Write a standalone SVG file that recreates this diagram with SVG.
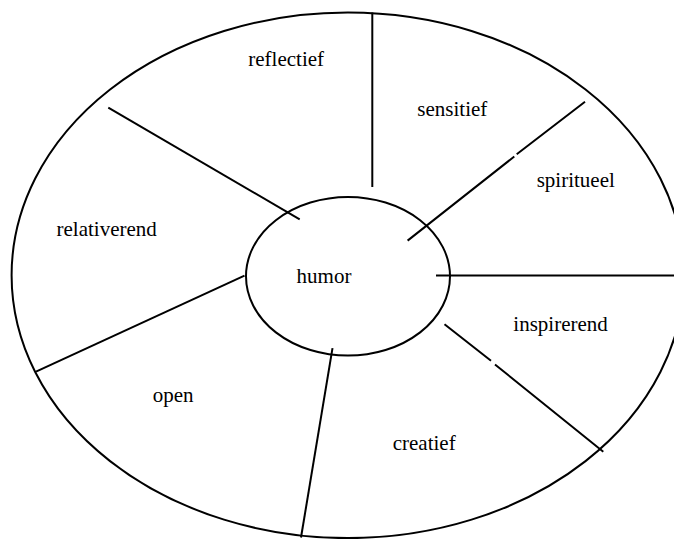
<svg xmlns="http://www.w3.org/2000/svg" width="674" height="539" viewBox="0 0 674 539">
<style>
.shape{fill:none;stroke:#000;stroke-width:2}
.conn{fill:none;stroke:#000;stroke-width:2}
.lbl{font-family:"Liberation Serif","Times New Roman",serif;font-size:21px;fill:#000}
</style>
<rect width="674" height="539" fill="#fff"/>
<g id="outer">
<ellipse class="shape" cx="347.8" cy="275.3" rx="336.2" ry="262.8"/>
</g>
<g id="connectors">
<line class="conn" x1="372.3" y1="12.5" x2="372.3" y2="187"/>
<line class="conn" x1="108.3" y1="107.6" x2="299.7" y2="219.3"/>
<path class="conn" d="M585,101.7 L516.7,154.3 M514.3,156.5 L407.6,240.6"/>
<line class="conn" x1="436" y1="275.6" x2="674" y2="275.6"/>
<path class="conn" d="M444.5,324.3 L491,360.7 M495,364.5 L603.3,451.7"/>
<line class="conn" x1="332.5" y1="348.2" x2="301" y2="537.5"/>
<line class="conn" x1="244.5" y1="275.6" x2="36" y2="371.7"/>
</g>
<g id="humor">
<ellipse class="shape" cx="348" cy="276.3" rx="102" ry="79.3"/>
<text class="lbl" x="296.6" y="282.7">humor</text>
</g>
<g id="reflectief"><text class="lbl" x="248.3" y="66">reflectief</text></g>
<g id="sensitief"><text class="lbl" x="417.3" y="116">sensitief</text></g>
<g id="spiritueel"><text class="lbl" x="536.7" y="186.7">spiritueel</text></g>
<g id="relativerend"><text class="lbl" x="56.5" y="235.5">relativerend</text></g>
<g id="inspirerend"><text class="lbl" x="513.3" y="330.7">inspirerend</text></g>
<g id="creatief"><text class="lbl" x="392.7" y="450">creatief</text></g>
<g id="open"><text class="lbl" x="152.7" y="401.7">open</text></g>
</svg>
